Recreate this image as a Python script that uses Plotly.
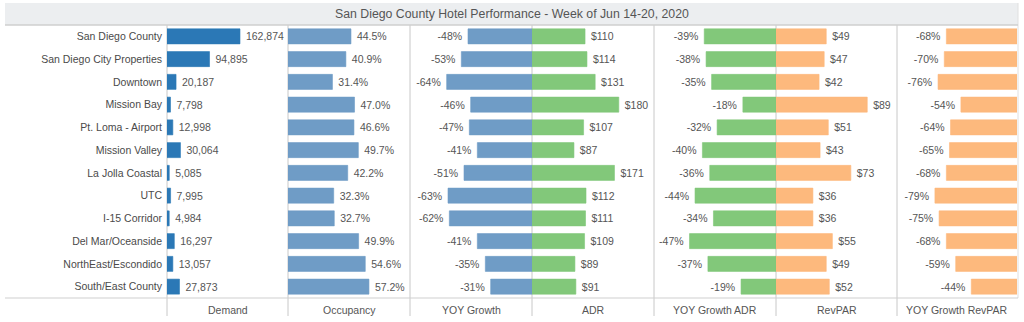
import plotly.graph_objects as go

areas = ["San Diego County", "San Diego City Properties", "Downtown", "Mission Bay",
         "Pt. Loma - Airport", "Mission Valley", "La Jolla Coastal", "UTC",
         "I-15 Corridor", "Del Mar/Oceanside", "NorthEast/Escondido", "South/East County"]
demand = [162874, 94895, 20187, 7798, 12998, 30064, 5085, 7995, 4984, 16297, 13057, 27873]
occupancy = [44.5, 40.9, 31.4, 47.0, 46.6, 49.7, 42.2, 32.3, 32.7, 49.9, 54.6, 57.2]
yoy_occ = [-48, -53, -64, -46, -47, -41, -51, -63, -62, -41, -35, -31]
adr = [110, 114, 131, 180, 107, 87, 171, 112, 111, 109, 89, 91]
yoy_adr = [-39, -38, -35, -18, -32, -40, -36, -44, -34, -47, -37, -19]
revpar = [49, 47, 42, 89, 51, 43, 73, 36, 36, 55, 49, 52]
yoy_revpar = [-68, -70, -76, -54, -64, -65, -68, -79, -75, -68, -59, -44]
column_titles = ["Demand", "Occupancy", "YOY Growth", "ADR", "YOY Growth ADR", "RevPAR", "YOY Growth RevPAR"]
title = "San Diego County Hotel Performance - Week of Jun 14-20, 2020"

W, H = 1024, 322
FONT = "Liberation Sans, Arial, sans-serif"
TXT = "#555555"
NB = "\u00a0"

DARK_BLUE = "#2b78b6"
BLUE = "#6f9cc6"
GREEN = "#82c87a"
ORANGE = "#fdb97d"

def pos(lbls):
    return [NB + s for s in lbls]

def neg(lbls):
    return [s + NB for s in lbls]

panels = [
    (demand, pos([f"{v:,}" for v in demand]), DARK_BLUE, [0, 270000], 167, 288),
    (occupancy, pos([f"{v:.1f}%" for v in occupancy]), BLUE, [0, 86.2], 288, 410),
    (yoy_occ, neg([f"{v}%" for v in yoy_occ]), BLUE, [-91.5, 0], 410, 532),
    (adr, pos([f"${v}" for v in adr]), GREEN, [0, 253], 532, 654),
    (yoy_adr, neg([f"{v}%" for v in yoy_adr]), GREEN, [-66.3, 0], 654, 776),
    (revpar, pos([f"${v}" for v in revpar]), ORANGE, [0, 118], 776, 897),
    (yoy_revpar, neg([f"{v}%" for v in yoy_revpar]), ORANGE, [-115.5, 0], 897, 1017),
]

top_px, bot_px = 25, 298
ydom = [1 - bot_px / H, 1 - top_px / H]

fig = go.Figure()
layout = dict(
    width=W, height=H, margin=dict(l=0, r=0, t=0, b=0),
    paper_bgcolor="white", plot_bgcolor="rgba(0,0,0,0)",
    showlegend=False, font=dict(family=FONT, color=TXT, size=10.5),
    bargap=0.34,
)

for i, (vals, labels, color, rng, x0, x1) in enumerate(panels):
    n = i + 1
    xa = "x" if n == 1 else f"x{n}"
    ya = "y" if n == 1 else f"y{n}"
    fig.add_trace(go.Bar(
        x=vals, y=areas, orientation="h", xaxis=xa, yaxis=ya,
        marker=dict(color=color, line=dict(color=color, width=0.6)),
        text=labels, textposition="outside", cliponaxis=False,
        constraintext="none",
        textfont=dict(family=FONT, size=10.5, color=TXT),
        hoverinfo="skip",
    ))
    layout["xaxis" if n == 1 else f"xaxis{n}"] = dict(
        domain=[x0 / W, x1 / W], range=rng, visible=False, fixedrange=True,
        anchor=ya,
    )
    ydict = dict(
        domain=ydom, anchor=xa, categoryorder="array", categoryarray=areas,
        autorange="reversed", showgrid=False, zeroline=False, showline=False,
        fixedrange=True,
    )
    if n == 1:
        ydict.update(showticklabels=True, ticks="", ticklabelstandoff=4,
                     tickfont=dict(family=FONT, size=10.5, color="#4a4a4a"))
    else:
        ydict.update(showticklabels=False, matches="y")
    layout["yaxis" if n == 1 else f"yaxis{n}"] = ydict

fig.update_layout(**layout)

def px(x):
    return x / W

def py(y):
    return 1 - y / H

shapes = []
# title band
shapes.append(dict(type="rect", xref="paper", yref="paper",
                   x0=px(5), x1=px(1018), y0=py(25), y1=py(3),
                   fillcolor="#eceef0", line=dict(width=0), layer="below"))
# line under title
shapes.append(dict(type="line", xref="paper", yref="paper",
                   x0=px(5), x1=px(1018), y0=py(25), y1=py(25),
                   line=dict(color="#cfcfcf", width=1.5)))
# bottom line
shapes.append(dict(type="line", xref="paper", yref="paper",
                   x0=px(5), x1=px(1018), y0=py(298), y1=py(298),
                   line=dict(color="#cfcfcf", width=1)))
# panel dividers
for xv in [167, 288, 410, 532, 654, 776, 897]:
    shapes.append(dict(type="line", xref="paper", yref="paper",
                       x0=px(xv), x1=px(xv), y0=py(25), y1=py(316),
                       line=dict(color="#c8c8c8", width=1), layer="below"))
# right edge
shapes.append(dict(type="line", xref="paper", yref="paper",
                   x0=px(1018), x1=px(1018), y0=py(3), y1=py(298),
                   line=dict(color="#e0e0e0", width=1), layer="below"))
fig.update_layout(shapes=shapes)

annotations = [dict(text=title, xref="paper", yref="paper", x=px(512), y=py(14),
                    xanchor="center", yanchor="middle", showarrow=False,
                    font=dict(family=FONT, size=12.3, color=TXT))]
for (vals, labels, color, rng, x0, x1), name in zip(panels, column_titles):
    annotations.append(dict(text=name, xref="paper", yref="paper",
                            x=px((x0 + x1) / 2), y=py(310), xanchor="center",
                            yanchor="middle", showarrow=False,
                            font=dict(family=FONT, size=10.5, color=TXT)))
fig.update_layout(annotations=annotations)

fig.write_html("out.html")
